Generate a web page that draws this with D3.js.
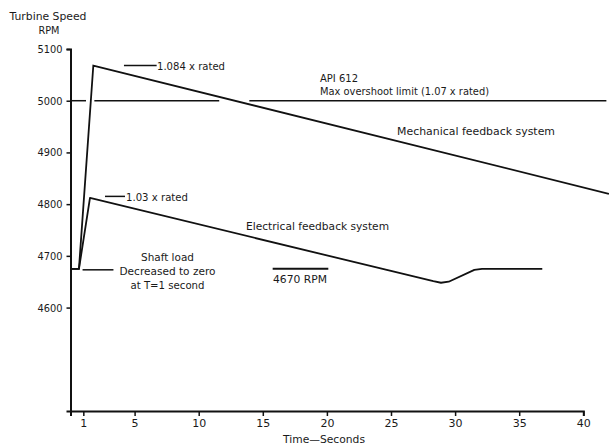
<!DOCTYPE html>
<html><head><meta charset="utf-8">
<script src="https://cdn.jsdelivr.net/npm/d3@7"></script>
<style>
body{margin:0;background:#fff;}
svg text{font-family:"DejaVu Sans",sans-serif;fill:#1a1a1a;}
</style></head>
<body><svg id="c" width="609" height="445"></svg>
<script>
// ---- data ----
const xTicks = [1, 5, 10, 15, 20, 25, 30, 35, 40];
const yTicks = [4600, 4700, 4800, 4900, 5000, 5100];
const mechTime = [0, 0.66, 1.78, 42];
const mechRPM  = [4675, 4675, 5068, 4820];
const elecTime = [0, 0.66, 1.52, 28.3, 28.9, 29.5, 31.5, 32.1, 36.8];
const elecRPM  = [4675, 4675, 4812, 4651, 4648, 4650, 4673, 4675, 4675];
const limitRPM = 5000;
const limitStart = [0, 1.86, 13.95];
const limitEnd   = [1.21, 11.6, 41.8];
const refRPM = 4675;            // "4670 RPM" marker line
const refStart = 15.77, refEnd = 20.11;

const svg = d3.select("#c");
const x = d3.scaleLinear().domain([0, 40]).range([70.5, 583.3]);
const y = d3.scaleLinear().domain([4400, 5100]).range([411, 49]);

const ink = "#111";

// axes
const gx = svg.append("g").attr("transform", `translate(0,${y(4400)})`)
  .call(d3.axisBottom(x).tickValues(xTicks).tickSizeOuter(0).tickSize(5).tickPadding(3));
const gy = svg.append("g").attr("transform", `translate(${x(0)},0)`)
  .call(d3.axisLeft(y).tickValues(yTicks).tickFormat(d3.format("d")).tickSizeOuter(0).tickSize(4).tickPadding(4));
[gx, gy].forEach(g => {
  g.selectAll("path.domain").attr("stroke", ink).attr("stroke-width", 2);
  g.selectAll(".tick line").attr("stroke", ink).attr("stroke-width", 1.5);
  g.selectAll(".tick text").attr("font-family", "DejaVu Sans").attr("font-size", 11).attr("fill", "#1a1a1a");
});
gy.selectAll(".tick text").attr("textLength", 25).attr("lengthAdjust", "spacingAndGlyphs");

const line = d3.line().x(d => x(d[0])).y(d => y(d[1]));

// limit line segments
limitStart.forEach((s, i) => {
  svg.append("line").attr("x1", x(s)).attr("x2", x(limitEnd[i]))
    .attr("y1", y(limitRPM)).attr("y2", y(limitRPM))
    .attr("stroke", ink).attr("stroke-width", 1.5);
});

// series
svg.append("path").datum(mechTime.map((t, i) => [t, mechRPM[i]]))
  .attr("d", line).attr("fill", "none").attr("stroke", ink).attr("stroke-width", 1.8);
svg.append("path").datum(elecTime.map((t, i) => [t, elecRPM[i]]))
  .attr("d", line).attr("fill", "none").attr("stroke", ink).attr("stroke-width", 1.8)
  .attr("stroke-linejoin", "round");

// 4670 RPM marker
svg.append("line").attr("x1", x(refStart)).attr("x2", x(refEnd))
  .attr("y1", y(refRPM)).attr("y2", y(refRPM)).attr("stroke", ink).attr("stroke-width", 2);

// leaders
function leader(t1, t2, v) {
  svg.append("line").attr("x1", x(t1)).attr("x2", x(t2)).attr("y1", y(v)).attr("y2", y(v))
    .attr("stroke", ink).attr("stroke-width", 1.5);
}
leader(4.17, 6.72, 5068);
leader(2.69, 4.25, 4815);
leader(0.94, 3.35, 4673);

function txt(px, py, s, anchor, len) {
  const t = svg.append("text").attr("x", px).attr("y", py).attr("font-size", 11)
    .attr("text-anchor", anchor || "start").text(s);
  if (len) t.attr("textLength", len).attr("lengthAdjust", "spacingAndGlyphs");
}
txt(48, 20, "Turbine Speed", "middle", 77);
txt(49, 34, "RPM", "middle", 21);
txt(157, 70, "1.084 x rated", "start", 68);
txt(126, 201, "1.03 x rated", "start", 62);
txt(320, 81.5, "API 612", "start", 38);
txt(320, 95, "Max overshoot limit (1.07 x rated)", "start", 169);
txt(397, 135, "Mechanical feedback system", "start", 158);
txt(246, 230, "Electrical feedback system", "start", 143);
txt(167.5, 261, "Shaft load", "middle", 53);
txt(167.5, 275, "Decreased to zero", "middle", 96);
txt(167.5, 289, "at T=1 second", "middle", 74);
txt(273, 283, "4670 RPM", "start", 54);
txt(324, 443, "Time\u2014Seconds", "middle", 82);
</script></body></html>
